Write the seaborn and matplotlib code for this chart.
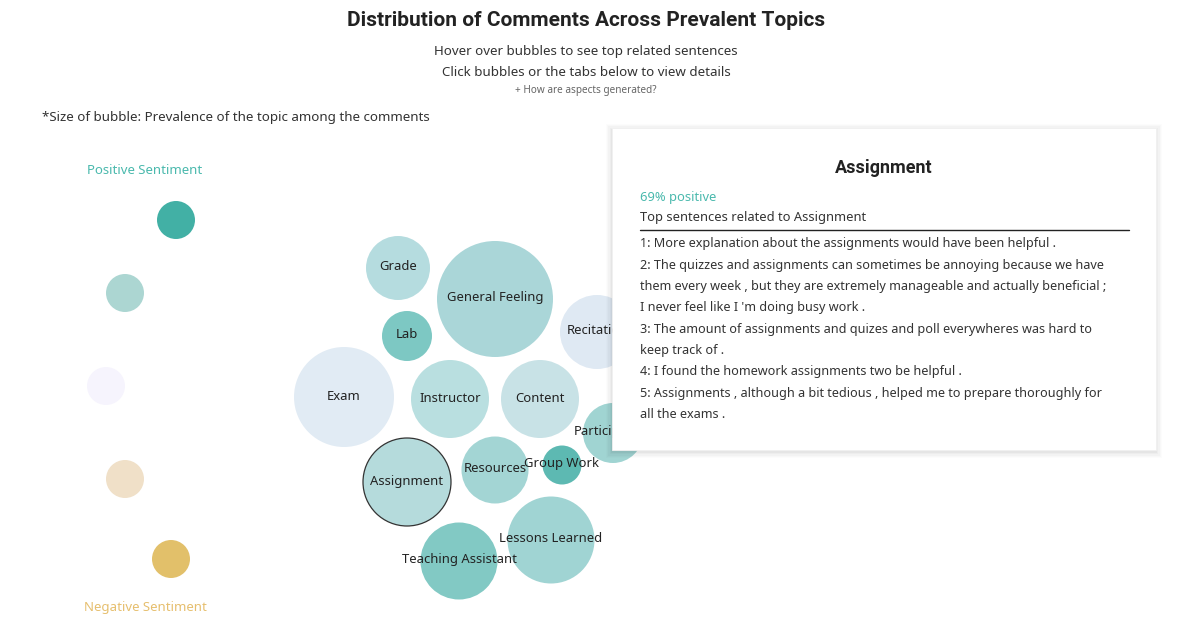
import matplotlib
matplotlib.use("Agg")
import matplotlib.pyplot as plt
import matplotlib.patches as mpatches
import seaborn as sns
import pandas as pd

# bubble data (layout positions from the force layout, radius ~ prevalence)
topics = ["Grade", "General Feeling", "Recitation", "Lab", "Exam", "Instructor", "Content",
          "Participation", "Assignment", "Resources", "Group Work", "Lessons Learned",
          "Teaching Assistant"]
layout_x = [398, 495, 597, 407, 344, 450, 540, 613, 407, 495, 562, 551, 459]
layout_y = [268, 299, 332, 336, 397, 399, 399, 433, 482, 470, 465, 540, 561]
prevalence = [32, 58, 37, 25, 50, 39, 39, 30, 44, 33.5, 19.5, 43.5, 38.5]
topic_colors = ["#b5dcdf", "#aad6d8", "#dfe9f3", "#7dc8c3", "#e1ebf4", "#b9dfe0", "#c8e2e6",
                "#a0d4d2", "#b5dbdc", "#a3d5d4", "#5db9b2", "#a0d4d3", "#82c9c4"]

# sentiment legend
legend_colors = ["#42b0a5", "#acd6d2", "#f6f4fd", "#f0e0c8", "#e2c06a"]
legend_x = [176, 125, 106, 125, 171]
legend_y = [220, 293, 386, 479, 559]

selected = "Assignment"
pct_positive = 69
sentences = [
    "1: More explanation about the assignments would have been helpful .",
    "2: The quizzes and assignments can sometimes be annoying because we have",
    "them every week , but they are extremely manageable and actually beneficial ;",
    "I never feel like I 'm doing busy work .",
    "3: The amount of assignments and quizes and poll everywheres was hard to",
    "keep track of .",
    "4: I found the homework assignments two be helpful .",
    "5: Assignments , although a bit tedious , helped me to prepare thoroughly for",
    "all the exams .",
]

sns.set_style("white")
plt.rcParams["font.family"] = ["Noto Sans", "DejaVu Sans"]

W, H, DPI = 1184, 625, 100
fig = plt.figure(figsize=(W / DPI, H / DPI), dpi=DPI)
ax = fig.add_axes([0, 0, 1, 1])
ax.set_xlim(0, W)
ax.set_ylim(H, 0)
ax.axis("off")

px2pt = 72 / DPI
df = pd.DataFrame({"topic": topics, "x": layout_x, "y": layout_y, "r": prevalence})
df["s"] = (2 * df["r"] * px2pt) ** 2
sns.scatterplot(data=df, x="x", y="y", hue="topic", palette=dict(zip(topics, topic_colors)),
                s=df["s"].tolist(), linewidth=0, legend=False, ax=ax, zorder=2)
sel = df[df.topic == selected]
sns.scatterplot(data=sel, x="x", y="y", s=sel["s"].tolist(), facecolor="none",
                edgecolor="#333333", linewidth=0.9, legend=False, ax=ax, zorder=3)
for _, row in df.iterrows():
    dy = -2 if row.topic in ("Teaching Assistant", "Lessons Learned", "Group Work", "Resources") else -1
    ax.text(row.x, row.y + dy, row.topic, ha="center", va="center", fontsize=9.4,
            color="#222222", zorder=4)

leg = pd.DataFrame({"x": legend_x, "y": legend_y, "c": [str(i) for i in range(5)]})
sns.scatterplot(data=leg, x="x", y="y", hue="c", palette=dict(zip(leg.c, legend_colors)),
                s=(38 * px2pt) ** 2, linewidth=0, legend=False, ax=ax, zorder=2)
ax.text(145, 171, "Positive Sentiment", ha="center", va="center", fontsize=9.5, color="#4ab9ad")
ax.text(145, 608, "Negative Sentiment", ha="center", va="center", fontsize=9.5, color="#e6bf6e")

# header
ax.text(586, 21, "Distribution of Comments Across Prevalent Topics", ha="center", va="center",
        fontsize=15, fontweight="bold", color="#222222", family=["Roboto", "DejaVu Sans"])
ax.text(586, 52, "Hover over bubbles to see top related sentences", ha="center", va="center",
        fontsize=9.6, color="#333333")
ax.text(586, 73, "Click bubbles or the tabs below to view details", ha="center", va="center",
        fontsize=9.6, color="#333333")
ax.text(586, 91, "+ How are aspects generated?", ha="center", va="center",
        fontsize=7.2, color="#666666")
ax.text(42, 118, "*Size of bubble: Prevalence of the topic among the comments", ha="left",
        va="center", fontsize=9.6, color="#333333")

# tooltip box with soft shadow
bx0, by0, bx1, by1 = 612, 128, 1156, 450
for i, a in enumerate([0.012, 0.015, 0.02, 0.025, 0.03]):
    g = 6 - i * 1.2
    ax.add_patch(mpatches.Rectangle((bx0 - g, by0 - g + 2), bx1 - bx0 + 2 * g, by1 - by0 + 2 * g,
                                    facecolor="black", alpha=a, linewidth=0, zorder=5))
ax.add_patch(mpatches.Rectangle((bx0, by0), bx1 - bx0, by1 - by0, facecolor="white",
                                edgecolor="#f0f0f0", linewidth=0.6, zorder=6))
ax.text(884, 168, selected, ha="center", va="center", fontsize=13, fontweight="bold",
        color="#222222", zorder=7, family=["Roboto", "DejaVu Sans"])
ax.text(640, 197, f"{pct_positive}% positive", ha="left", va="center", fontsize=9.3,
        color="#4ab9ad", zorder=7)
ax.text(640, 218, f"Top sentences related to {selected}", ha="left", va="center",
        fontsize=9.3, color="#333333", zorder=7)
ax.plot([640, 1129], [229.5, 229.5], color="#222222", linewidth=1, zorder=7)
for i, s in enumerate(sentences):
    ax.text(640, 244 + i * 21.3, s, ha="left", va="center", fontsize=9.1,
            color="#333333", zorder=7)

fig.savefig("out.png", dpi=DPI)
